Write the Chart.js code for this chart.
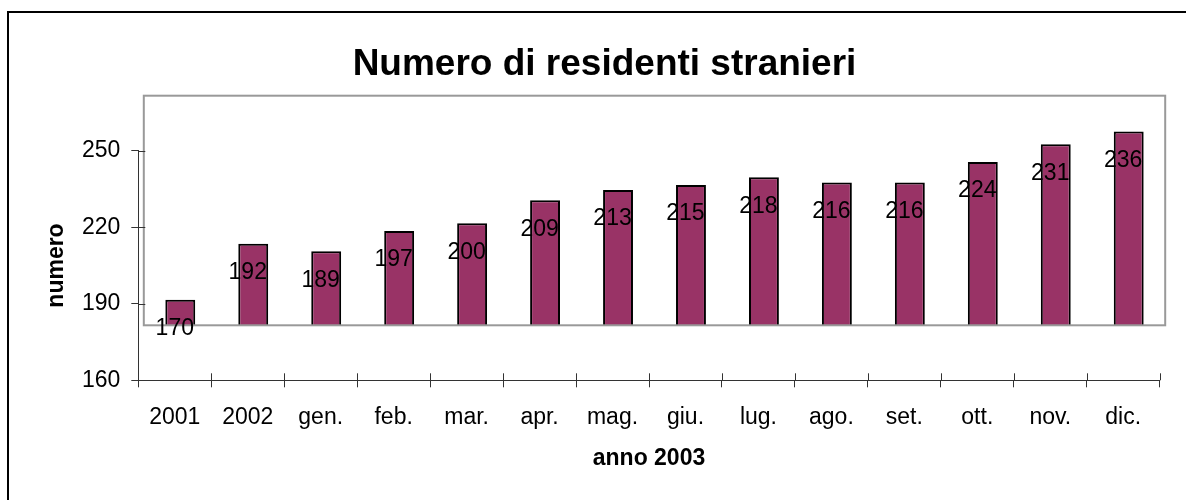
<!DOCTYPE html>
<html>
<head>
<meta charset="utf-8">
<script src="https://cdn.jsdelivr.net/npm/chart.js@4.4.1/dist/chart.umd.min.js"></script>
<style>
  html, body { margin: 0; padding: 0; background: #fff; }
  canvas { display: block; }
</style>
</head>
<body>
<canvas id="residenti" width="1186" height="500"></canvas>
<script>
// ── Data ─────────────────────────────────────────────
const categories = ['2001', '2002', 'gen.', 'feb.', 'mar.', 'apr.', 'mag.', 'giu.', 'lug.', 'ago.', 'set.', 'ott.', 'nov.', 'dic.'];
const residenti = [170, 192, 189, 197, 200, 209, 213, 215, 218, 216, 216, 224, 231, 236];
const yTicks = [160, 190, 220, 250];
const chartTitle = 'Numero di residenti stranieri';
const xTitle = 'anno 2003';
const yTitle = 'numero';

const FONT = "'Liberation Sans', Arial, sans-serif";
const AXIS_COLOR = '#333';
// the plot area (box + bars) sits shifted against the axes, like in the original
const PLOT_SHIFT = { x: 5.5, y: -55 };

// ── Plugins ──────────────────────────────────────────
const frame = {
  id: 'frame',
  beforeDraw(chart) {
    const { ctx, width, height } = chart;
    ctx.save();
    ctx.fillStyle = '#fff';
    ctx.fillRect(0, 0, width, height);
    ctx.strokeStyle = '#000';
    ctx.lineWidth = 2;
    ctx.beginPath();
    ctx.moveTo(8, height);
    ctx.lineTo(8, 12);
    ctx.lineTo(width, 12);
    ctx.stroke();
    ctx.restore();
  }
};

const shiftedPlot = {
  id: 'shiftedPlot',
  beforeDatasetsDraw(chart) {
    chart.ctx.save();
    chart.ctx.translate(PLOT_SHIFT.x, PLOT_SHIFT.y);
  },
  afterDatasetsDraw(chart) {
    const { ctx, chartArea: a, scales: { x, y } } = chart;
    ctx.restore();

    // plot area border
    ctx.save();
    ctx.strokeStyle = '#999';
    ctx.lineWidth = 2;
    ctx.strokeRect(a.left + PLOT_SHIFT.x, a.top + PLOT_SHIFT.y, a.right - a.left, a.bottom - a.top);
    ctx.restore();

    // value labels, placed on the axis scale
    ctx.save();
    ctx.fillStyle = '#000';
    ctx.font = `23px ${FONT}`;
    ctx.textAlign = 'center';
    ctx.textBaseline = 'middle';
    residenti.forEach((v, i) => {
      ctx.fillText(String(v), x.getPixelForValue(i), y.getPixelForValue(v) - 26);
    });
    ctx.restore();
  }
};

const crossTicks = {
  id: 'crossTicks',
  afterDraw(chart) {
    const { ctx, scales: { x, y } } = chart;
    ctx.save();
    ctx.strokeStyle = AXIS_COLOR;
    ctx.lineWidth = 1;
    ctx.beginPath();
    y.ticks.forEach(t => {
      const py = Math.round(y.getPixelForValue(t.value)) + 0.5;
      ctx.moveTo(x.left, py);
      ctx.lineTo(x.left + 7, py);
    });
    for (let i = 0; i <= categories.length; i++) {
      const px = Math.round(x.getPixelForValue(i - 0.5)) + 0.5;
      ctx.moveTo(px, y.bottom);
      ctx.lineTo(px, y.bottom - 7);
    }
    ctx.stroke();

    // chart title
    ctx.fillStyle = '#000';
    ctx.font = `bold 37px ${FONT}`;
    ctx.textAlign = 'center';
    ctx.textBaseline = 'middle';
    ctx.fillText(chartTitle, 604.5, 65);
    ctx.restore();
  }
};

// ── Chart ────────────────────────────────────────────
new Chart(document.getElementById('residenti'), {
  type: 'bar',
  data: {
    labels: categories,
    datasets: [{
      data: residenti,
      backgroundColor: '#993366',
      borderColor: '#000',
      borderWidth: 2,
      borderSkipped: 'start',
      barPercentage: 0.41,
      categoryPercentage: 1
    }]
  },
  options: {
    responsive: false,
    animation: false,
    layout: { padding: { left: 0, top: 150.7, right: 26.3, bottom: 0 } },
    plugins: { legend: { display: false }, tooltip: { enabled: false }, title: { display: false } },
    scales: {
      x: {
        offset: true,
        grid: { offset: true, drawOnChartArea: false, tickLength: 7, color: AXIS_COLOR, lineWidth: 1 },
        border: { display: true, color: AXIS_COLOR, width: 1 },
        ticks: { color: '#000', font: { family: FONT, size: 23 }, padding: 17, maxRotation: 0, autoSkip: false },
        title: { display: true, text: xTitle, color: '#000', font: { family: FONT, size: 23, weight: 'bold' }, padding: { top: 0, bottom: 28 } },
        afterFit: s => { s.height = 119.7; }
      },
      y: {
        min: 160,
        max: 250,
        afterBuildTicks: s => { s.ticks = yTicks.map(v => ({ value: v })); },
        grid: { drawOnChartArea: false, tickLength: 7, color: AXIS_COLOR, lineWidth: 1 },
        border: { display: true, color: AXIS_COLOR, width: 1 },
        ticks: { color: '#000', font: { family: FONT, size: 23 }, padding: 11 },
        title: { display: true, text: yTitle, color: '#000', font: { family: FONT, size: 23, weight: 'bold' }, padding: { top: 42.5, bottom: 0 } },
        afterFit: s => { s.width = 138.3; }
      }
    }
  },
  plugins: [frame, shiftedPlot, crossTicks]
});
</script>
</body>
</html>
